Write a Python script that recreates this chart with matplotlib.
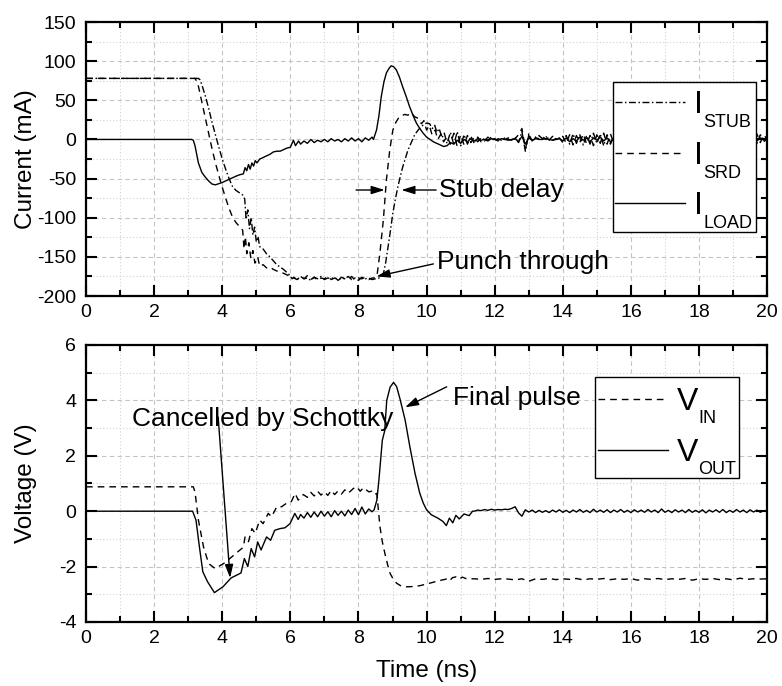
import numpy as np
import matplotlib.pyplot as plt
from matplotlib.patches import Rectangle
from matplotlib.ticker import MultipleLocator

plt.rcParams['font.family'] = ['Liberation Sans', 'DejaVu Sans']
plt.rcParams['axes.unicode_minus'] = False

# ---------------- top panel: currents (mA) ----------------
t_load = [0, 3.1, 3.15, 3.2, 3.3, 3.4, 3.5, 3.6, 3.7, 3.8, 4.0, 4.2, 4.4, 4.52, 4.62,
          4.67, 4.72, 4.77, 4.82, 4.87, 4.92, 4.97, 5.02, 5.1, 5.16, 5.25, 5.4, 5.5,
          5.6, 5.7, 5.8, 5.9, 6.0, 6.09, 6.15, 6.24,
          6.3, 6.4, 6.5, 6.6, 6.7, 6.8, 6.9, 7.0, 7.1, 7.2, 7.3, 7.4, 7.5, 7.6, 7.7,
          7.8, 7.9, 8.0, 8.1, 8.2, 8.3, 8.4,
          8.44, 8.53, 8.6, 8.67, 8.75, 8.82, 8.9, 8.96, 9.03, 9.11, 9.2, 9.3, 9.4, 9.5,
          9.6, 9.7, 9.8, 9.9, 10.0, 10.1, 10.2, 10.3, 10.4, 10.5]
i_load = [0, 0, -1, -8, -30, -42, -48, -53, -57, -58, -55, -51, -47, -45, -44,
          -36, -40, -32, -38, -30, -34, -27, -30, -25, -24, -22, -19, -16,
          -15, -15, -13, -11, -10, -1, -8, -2,
          -6, -2, -5, 0, -4, -1, -3, 0, -3, 1, -2, 0, -3, 1, -2,
          2, -2, 1, -3, 2, -1, 3,
          0, 12, 30, 55, 74, 85, 91, 94, 93, 89, 80, 67, 55, 42,
          31, 21, 14, 8, 3, 0, -3, -5, -7, -9]

t_srd = [0, 3.2, 3.28, 3.4, 3.5, 3.6, 3.7, 3.8, 3.9, 4.0, 4.1, 4.2, 4.3, 4.4, 4.5,
         4.6, 4.64, 4.68, 4.72, 4.78, 4.84, 4.9, 4.96, 5.04, 5.1, 5.2, 5.3, 5.4, 5.5,
         5.6, 5.7, 5.8, 5.9, 6.0, 6.1,
         6.2, 6.3, 6.4, 6.5, 6.6, 6.7, 6.8, 6.9, 7.0, 7.1, 7.2, 7.3, 7.4, 7.5, 7.6,
         7.7, 7.8, 7.9, 8.0, 8.1, 8.2, 8.3, 8.4,
         8.5, 8.55, 8.63, 8.73, 8.82, 8.92, 9.01, 9.1, 9.2, 9.36, 9.45, 9.55, 9.65,
         9.75, 9.85, 9.92, 10.0, 10.08, 10.16, 10.25, 10.33, 10.42, 10.5]
i_srd = [78, 78, 72, 48, 28, 8, -12, -30, -46, -61, -75, -88, -99, -106, -111,
         -116, -140, -124, -146, -132, -152, -142, -158, -150, -162, -160, -164, -163, -166,
         -168, -169, -171, -173, -175, -177,
         -179, -175, -178, -174, -179, -176, -180, -177, -178, -175, -179, -177, -180, -176, -178,
         -179, -175, -180, -177, -178, -176, -179, -177,
         -177, -172, -145, -103, -52, -13, 12, 22, 29, 32, 31, 34, 29,
         27, 20, 24, 12, 18, 6, 12, 0, 7, -3]

t_stub = [0, 3.3, 3.35, 3.4, 3.5, 3.6, 3.7, 3.8, 3.9, 4.0, 4.1, 4.2, 4.3, 4.4, 4.5,
          4.6, 4.66, 4.7, 4.75, 4.8, 4.85, 4.9, 4.95, 5.0, 5.05, 5.1, 5.2, 5.3, 5.4,
          5.5, 5.6, 5.7, 5.8, 5.9, 6.0, 6.05,
          6.1, 6.2, 6.3, 6.4, 6.5, 6.6, 6.7, 6.8, 6.9, 7.0, 7.1, 7.2, 7.3, 7.4, 7.5,
          7.6, 7.7, 7.8, 7.9, 8.0, 8.1, 8.2, 8.3, 8.4,
          8.5, 8.6, 8.68, 8.73, 8.8, 8.87, 8.94, 9.01, 9.08, 9.16, 9.23, 9.3, 9.38,
          9.45, 9.55, 9.65, 9.77, 9.89, 10.0, 10.09, 10.17, 10.24, 10.3, 10.37, 10.45, 10.52]
i_stub = [78, 78, 76, 70, 56, 40, 22, 6, -10, -25, -38, -50, -60, -65, -68,
          -71, -76, -102, -90, -114, -100, -122, -112, -131, -124, -137, -140, -146, -150,
          -155, -160, -163, -166, -170, -174, -178,
          -176, -179, -175, -178, -177, -180, -176, -178, -175, -179, -177, -178, -176, -180, -177,
          -178, -175, -179, -177, -180, -176, -178, -177, -179,
          -178, -177, -175, -172, -157, -137, -116, -94, -77, -60, -47, -35, -24,
          -14, -4, 6, 13, 18, 21, 20, 14, 18, 9, 14, 2, 8]

# scope samples after the pulse, 0.1 ns apart
t_tail_i = np.round(np.arange(10.6, 20.05, 0.1), 1)
i_load_tail = [-8, -4, -6, -1, -5, 0, -3, 1, -2, 1,
               -1, 0, -2, 1, 0, -1, 1, 0, -1, 0,
               1, -3, 4, -6, 2, -1, 1, 0, 0, 1,
               0, -1, 0, 1, -2, 2, -3, 1, -2, 3,
               -1, 2, -3, 2, -1, 3, -2, 2, -3, 2,
               -1, 1, 0, -1, 1, 0, -1, 1, 0, -1,
               1, 0, -1, 1, 0, -1, 1, 0, -1, 1,
               0, -1, 1, 0, -1, 1, 0, -1, 1, 0,
               -1, 1, 0, -1, 1, 0, -1, 1, 0, -2,
               3, -2, 2, -1, 1]
i_srd_tail = [4, -6, 8, -9, 6, -7, 5, -4, 3, -3,
              2, -2, 3, -1, 1, -2, 1, 0, 2, -1,
              1, 6, 14, -12, 5, -3, 2, 1, 4, 0,
              3, -1, 1, 0, 4, -5, 6, -7, 5, -4,
              7, -6, 5, -8, 6, -5, 8, -6, 7, -5,
              3, -4, 2, -3, 4, -2, 3, -4, 2, -3,
              4, -2, 3, -3, 2, -4, 3, -2, 4, -3,
              2, -3, 4, -2, 3, -4, 2, -3, 3, -2,
              4, -3, 2, -4, 3, -2, 4, -3, 2, 5,
              -6, 7, -4, 6, 0]
i_stub_tail = [-5, 9, -7, 10, -8, 6, -6, 4, -5, 3,
               -3, 2, -1, 3, -2, 1, -1, 2, 0, -1,
               3, -4, 10, -15, 7, -2, 3, 5, 1, 4,
               -1, 4, 0, 2, -4, 5, -6, 7, -5, 6,
               -7, 5, -6, 8, -5, 7, -8, 6, -6, 4,
               2, -3, 4, -2, 3, -4, 2, -3, 4, -2,
               3, -4, 2, -3, 4, -2, 3, -4, 2, -3,
               4, -2, 3, -4, 2, -3, 4, -2, 3, -4,
               2, -3, 4, -2, 3, -4, 2, -3, 4, -6,
               8, -5, 6, -3, 1]

# ---------------- bottom panel: voltages (V) ----------------
t_vin = [0, 3.15, 3.2, 3.3, 3.45, 3.6, 3.79, 4.04, 4.28, 4.57, 4.62, 4.67, 4.77, 4.87,
         4.97, 5.1, 5.2, 5.35, 5.45, 5.6, 5.74, 5.88, 6.03, 6.14, 6.23, 6.38, 6.5, 6.6,
         6.7, 6.8, 6.9, 7.0, 7.1, 7.2, 7.3, 7.4, 7.5, 7.6, 7.7, 7.85, 7.95, 8.05, 8.15,
         8.3, 8.39, 8.46, 8.54, 8.63, 8.7, 8.78, 8.86, 8.93, 9.02, 9.12, 9.25, 9.41, 9.6,
         9.8, 10.0, 10.18, 10.4, 10.58, 10.67, 10.76, 10.86, 10.96, 11.05, 11.15, 11.3]
v_in = [0.88, 0.88, 0.7, -0.32, -1.29, -1.89, -2.07, -1.89, -1.65, -1.35, -1.3, -0.93, -1.1, -0.63,
        -0.8, -0.32, -0.45, -0.08, -0.2, 0.16, 0.16, 0.28, 0.35, 0.64, 0.4, 0.6, 0.5, 0.68,
        0.55, 0.72, 0.58, 0.7, 0.57, 0.75, 0.6, 0.73, 0.62, 0.77, 0.65, 0.82, 0.88, 0.72, 0.85,
        0.7, 0.72, 0.6, 0.64, -0.55, -1.1, -1.55, -1.95, -2.25, -2.45, -2.6, -2.7, -2.73, -2.72,
        -2.69, -2.63, -2.57, -2.5, -2.45, -2.52, -2.4, -2.37, -2.45, -2.38, -2.43, -2.44]

t_vout = [0, 3.13, 3.23, 3.33, 3.43, 3.57, 3.77, 4.02, 4.26, 4.55, 4.65, 4.75, 4.85, 4.95,
          5.04, 5.14, 5.3, 5.42, 5.54, 5.69, 5.84, 5.99, 6.13, 6.23,
          6.3, 6.4, 6.5, 6.6, 6.7, 6.8, 6.9, 7.0, 7.1, 7.2, 7.3, 7.4, 7.5, 7.6, 7.7,
          7.8, 7.9, 8.0, 8.1, 8.2, 8.3, 8.4,
          8.46, 8.54, 8.6, 8.7, 8.77, 8.83, 8.93, 9.03, 9.12, 9.22, 9.37, 9.51, 9.66,
          9.8, 9.9, 10.0, 10.14, 10.33, 10.48, 10.58, 10.67, 10.77, 10.86, 10.96, 11.1,
          11.25, 11.35]
v_out = [0, 0, -0.33, -1.29, -2.19, -2.55, -2.94, -2.73, -2.41, -2.23, -1.71, -2.0, -1.35, -1.65,
         -1.11, -1.4, -0.93, -1.05, -0.69, -0.63, -0.6, -0.45, -0.08, -0.3,
         -0.12, -0.25, -0.05, -0.22, -0.03, -0.2, 0.0, -0.18, -0.02, -0.2, 0.02, -0.15, 0.0,
         -0.17, 0.04, -0.12, 0.1, -0.13, 0.15, -0.1, 0.08, -0.02,
         0.05, 0.4, 1.12, 2.56, 2.9, 4.0, 4.48, 4.65, 4.5, 4.05, 3.29, 2.32, 1.37,
         0.65, 0.3, 0.05, -0.13, -0.25, -0.37, -0.52, -0.25, -0.42, -0.15, -0.28, -0.1,
         -0.16, 0.0]

t_tail_vout = np.round(np.arange(11.4, 20.05, 0.1), 1)
v_out_tail = [0.00, 0.04, 0.02, 0.06, 0.03, 0.07, 0.04, 0.06, 0.05, 0.07,
              0.06, 0.10, 0.16, -0.06, -0.18, 0.05, -0.03, 0.04, -0.05, 0.03,
              -0.04, 0.02, -0.05, 0.04, -0.03, 0.05, -0.04, 0.03, -0.05, 0.04,
              -0.03, 0.06, -0.04, 0.03, -0.05, 0.07, -0.03, 0.04, -0.04, 0.05,
              -0.05, 0.04, -0.03, 0.06, -0.04, 0.03, -0.05, 0.05, -0.03, 0.04,
              -0.04, 0.06, -0.03, 0.04, -0.05, 0.08, -0.04, 0.03, -0.05, 0.05,
              -0.03, 0.04, -0.05, 0.06, -0.04, 0.03, -0.04, 0.05, -0.06, 0.04,
              -0.03, 0.05, -0.04, 0.06, -0.05, 0.03, -0.04, 0.06, -0.03, 0.04,
              -0.05, 0.05, -0.03, 0.04, -0.04, 0.02, 0.00]

t_tail_vin = np.round(np.arange(11.4, 20.05, 0.2), 1)
v_in_tail = [-2.44, -2.46, -2.43, -2.46, -2.44, -2.45, -2.48, -2.44, -2.53, -2.44,
             -2.46, -2.43, -2.47, -2.44, -2.46, -2.43, -2.48, -2.44, -2.46, -2.43,
             -2.47, -2.44, -2.46, -2.43, -2.49, -2.44, -2.46, -2.43, -2.47, -2.44,
             -2.46, -2.43, -2.49, -2.44, -2.46, -2.43, -2.47, -2.44, -2.48, -2.42,
             -2.46, -2.44, -2.45, -2.44]

DASH = (0, (4.8, 3.6))
DASHDOT = (0, (5, 1.8, 1.1, 1.8))


def style_axes(ax, ymin, ymax, ymaj, ymin_step):
    ax.set_xlim(0, 20)
    ax.set_ylim(ymin, ymax)
    ax.xaxis.set_major_locator(MultipleLocator(2))
    ax.xaxis.set_minor_locator(MultipleLocator(1))
    ax.yaxis.set_major_locator(MultipleLocator(ymaj))
    ax.yaxis.set_minor_locator(MultipleLocator(ymin_step))
    ax.grid(which='major', color='#c4c4c4', linestyle=(0, (4, 3)), linewidth=0.8)
    ax.grid(which='minor', color='#d2d2d2', linestyle=(0, (1, 2)), linewidth=0.8)
    ax.set_axisbelow(True)
    ax.tick_params(which='both', direction='in', top=True, right=True, width=1.5)
    ax.tick_params(which='major', length=8, labelsize=14)
    ax.tick_params(axis='x', which='major', pad=6)
    ax.tick_params(axis='y', which='major', pad=7)
    ax.tick_params(which='minor', length=4)
    for s in ax.spines.values():
        s.set_linewidth(1.6)


def draw_legend(ax, box, x0, x1, entries, xtxt, xsub, gap_main, gap_sub):
    ax.add_patch(Rectangle((box[0], box[1]), box[2] - box[0], box[3] - box[1],
                           transform=ax.transAxes, facecolor='white',
                           edgecolor='black', linewidth=1.0, zorder=5))
    for y, ls, main, sub in entries:
        ax.plot([x0, x1], [y, y], transform=ax.transAxes, color='black',
                linestyle=ls, linewidth=1.0, zorder=6)
        ax.text(xtxt, y - gap_main, main, transform=ax.transAxes, fontsize=23,
                ha='left', va='baseline', zorder=6)
        ax.text(xsub, y - gap_sub, sub, transform=ax.transAxes, fontsize=13,
                ha='left', va='baseline', zorder=6)


fig = plt.figure(figsize=(7.82, 6.86), dpi=100)
ax1 = fig.add_axes([0.110, 0.5685, 0.871, 0.3994])
ax2 = fig.add_axes([0.110, 0.0933, 0.871, 0.4038])

# top panel
ax1.plot(list(t_stub) + list(t_tail_i), i_stub + i_stub_tail, color='black',
         linewidth=1.0, linestyle=DASHDOT)
ax1.plot(list(t_srd) + list(t_tail_i), i_srd + i_srd_tail, color='black',
         linewidth=1.0, linestyle=DASH)
ax1.plot(list(t_load) + list(t_tail_i), i_load + i_load_tail, color='black',
         linewidth=1.0, linestyle='-')
style_axes(ax1, -200, 150, 50, 25)
ax1.set_ylabel('Current (mA)', fontsize=17.5)
ax1.yaxis.set_label_coords(-0.072, 0.5)

arrow = dict(arrowstyle='-|>,head_length=0.8,head_width=0.25', color='black',
             lw=1.0, shrinkA=0, shrinkB=0)
ax1.annotate('', xy=(8.77, -64.6), xytext=(7.93, -64.6), arrowprops=arrow)
ax1.annotate('', xy=(9.26, -64.6), xytext=(10.28, -64.6), arrowprops=arrow)
ax1.text(10.35, -64.6, 'Stub delay', fontsize=19, ha='left', va='center')
ax1.annotate('', xy=(8.53, -175), xytext=(10.2, -159), arrowprops=arrow)
ax1.text(10.3, -156.5, 'Punch through', fontsize=19, ha='left', va='center')

draw_legend(ax1, (0.773, 0.2325, 0.983, 0.782), 0.777, 0.880,
            [(0.707, DASHDOT, 'I', 'STUB'),
             (0.521, DASH, 'I', 'SRD'),
             (0.338, '-', 'I', 'LOAD')],
            0.893, 0.906, 0.040, 0.089)

# bottom panel
ax2.plot(list(t_vin) + list(t_tail_vin), v_in + v_in_tail, color='black',
         linewidth=1.0, linestyle=DASH)
ax2.plot(list(t_vout) + list(t_tail_vout), v_out + v_out_tail, color='black',
         linewidth=1.0, linestyle='-')
style_axes(ax2, -4, 6, 2, 1)
ax2.set_ylabel('Voltage (V)', fontsize=17.5)
ax2.yaxis.set_label_coords(-0.072, 0.5)
ax2.set_xlabel('Time (ns)', fontsize=17.5)
ax2.xaxis.set_label_coords(0.5, -0.137)

ax2.annotate('', xy=(4.23, -2.41), xytext=(3.88, 3.4), arrowprops=arrow)
ax2.text(1.35, 3.07, 'Cancelled by Schottky', fontsize=19, ha='left', va='baseline')
ax2.annotate('', xy=(9.37, 3.75), xytext=(10.59, 4.49), arrowprops=arrow)
ax2.text(10.78, 3.83, 'Final pulse', fontsize=19, ha='left', va='baseline')

draw_legend(ax2, (0.747, 0.521, 0.959, 0.883), 0.752, 0.855,
            [(0.805, DASH, 'V', 'IN'),
             (0.621, '-', 'V', 'OUT')],
            0.868, 0.899, 0.040, 0.088)

fig.savefig('out.png', dpi=100)
